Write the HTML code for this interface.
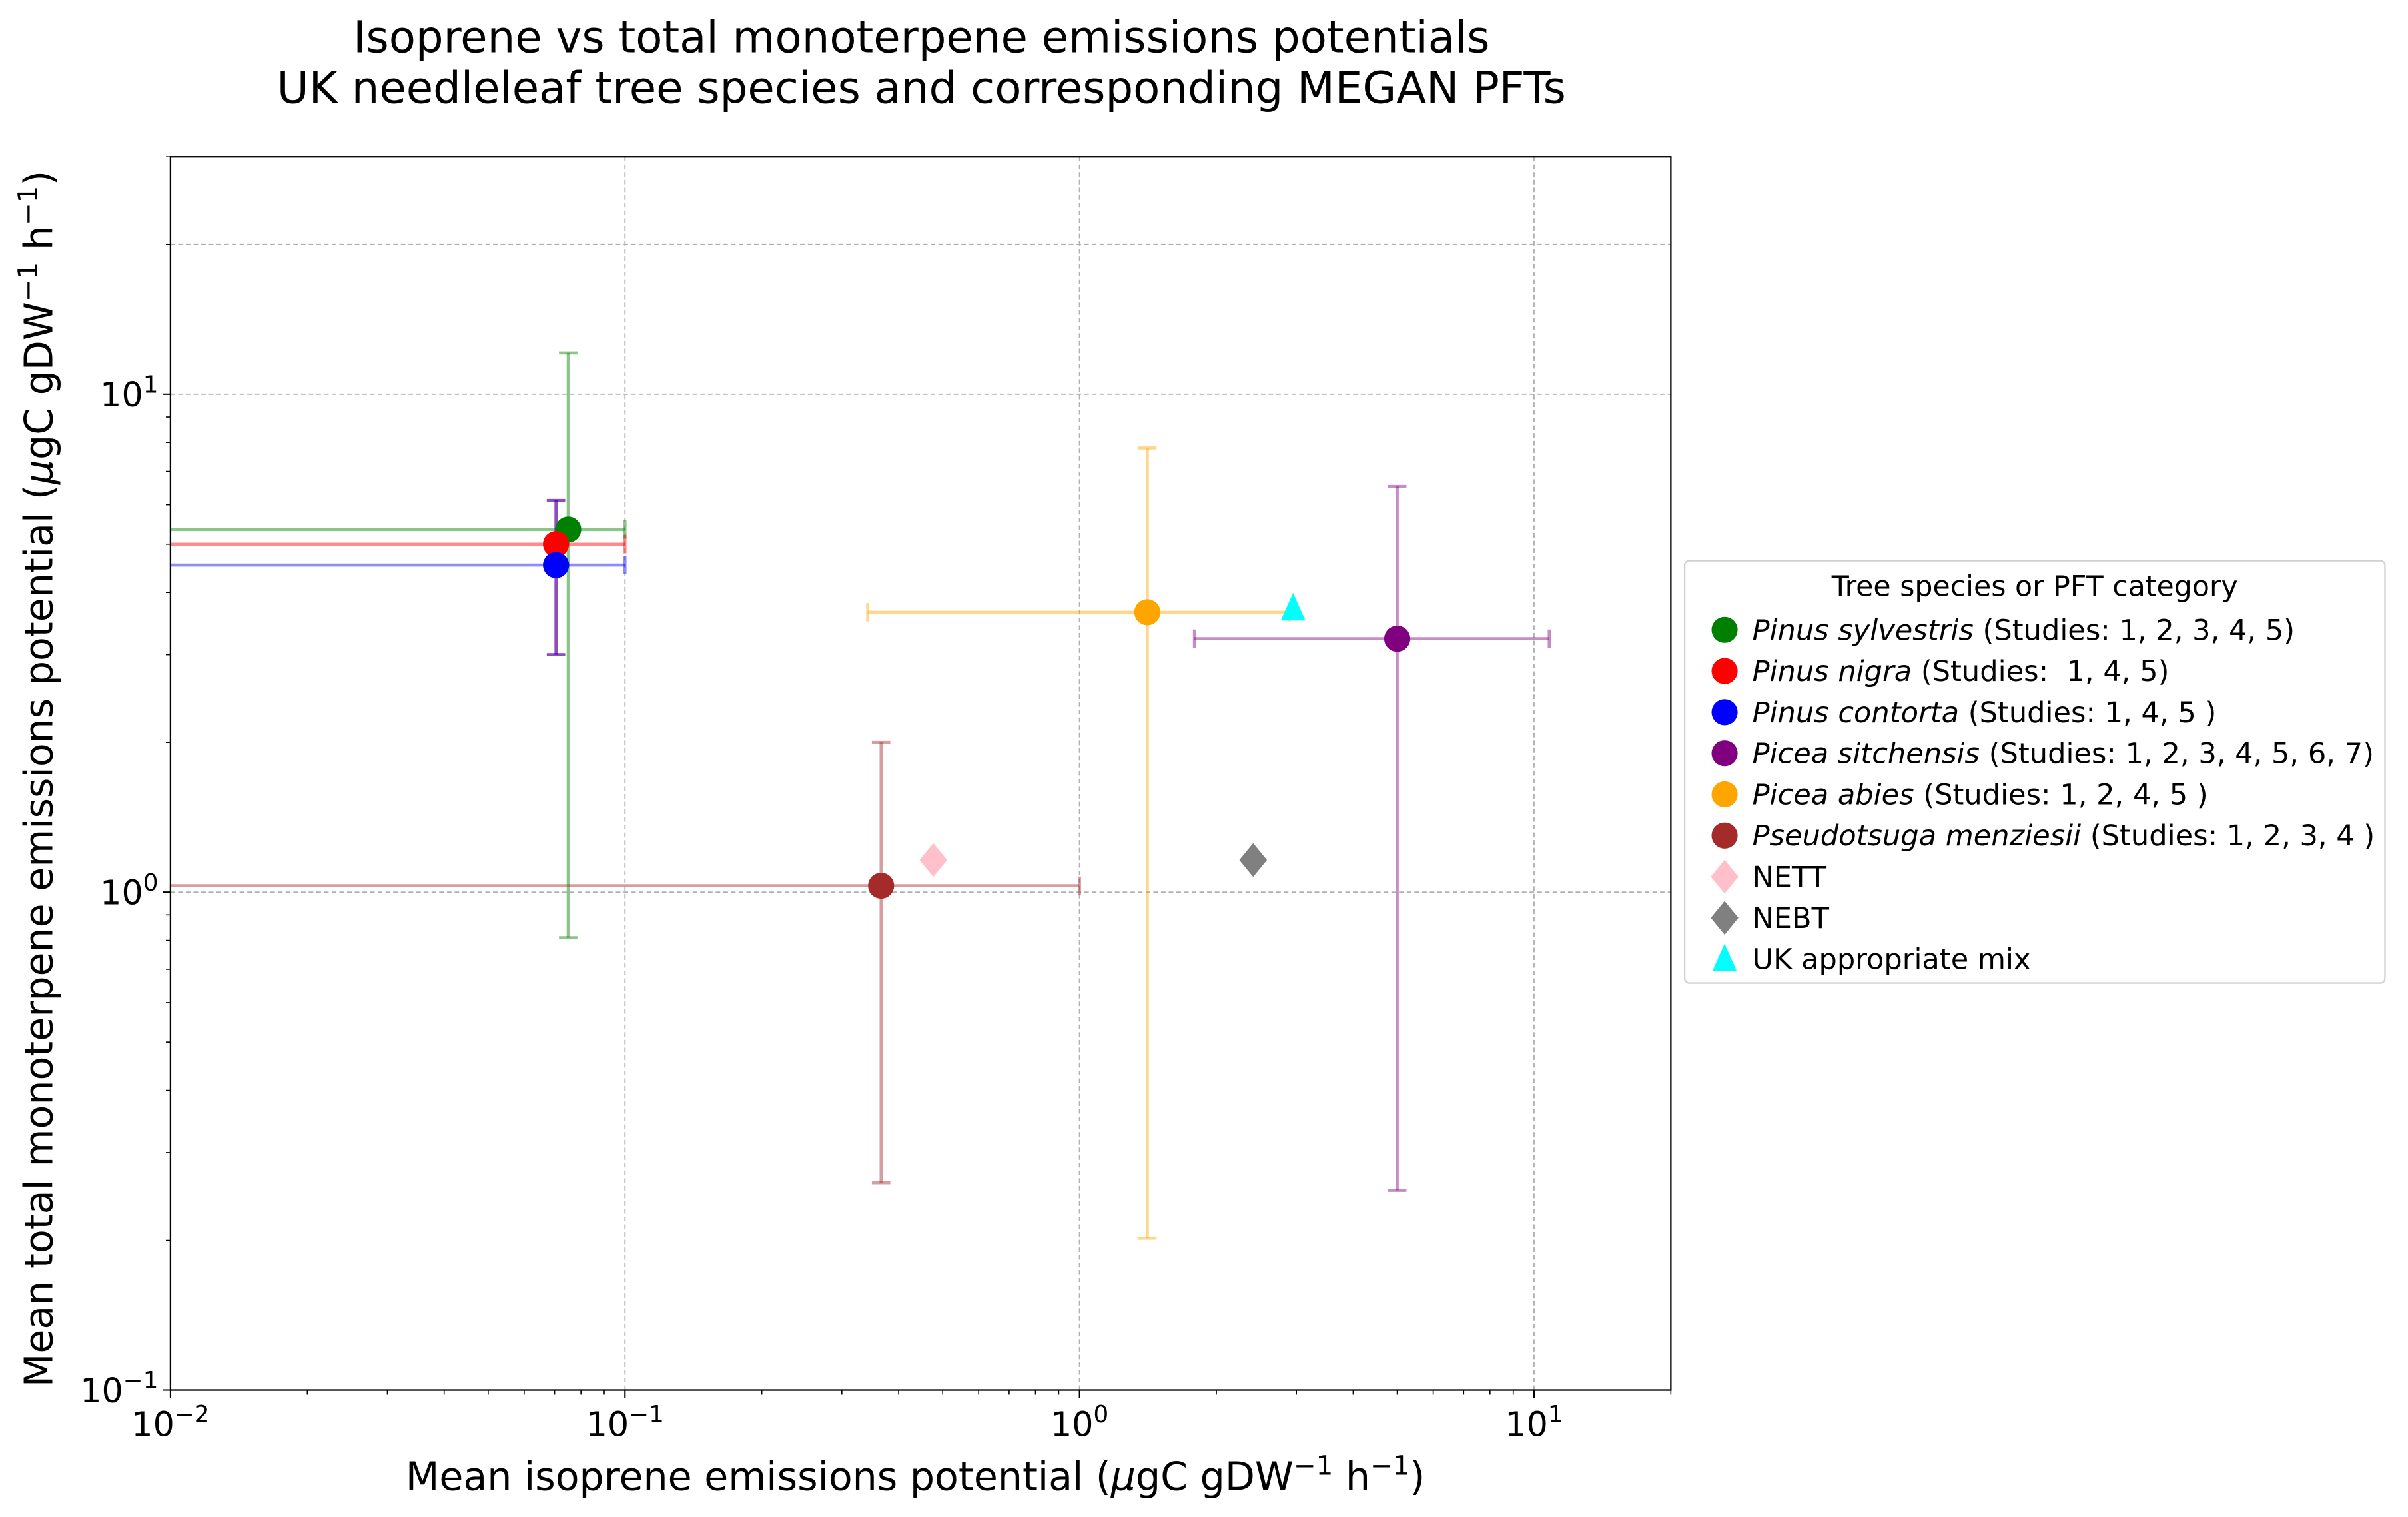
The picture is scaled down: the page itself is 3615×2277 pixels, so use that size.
<!DOCTYPE html>
<html><head><meta charset="utf-8"><style>
html,body{margin:0;padding:0;background:#fff}
svg{display:block;font-family:"DejaVu Sans","Liberation Sans",sans-serif}
</style></head><body>
<svg id="chart" width="3615" height="2277" viewBox="0 0 1568 987.6" xmlns="http://www.w3.org/2000/svg">
<rect width="1568" height="987.6" fill="#fff"/>
<g id="grid"></g>
<g id="ticks"></g>
<g id="marks"></g>
<rect x="111" y="102" width="977" height="803" fill="none" stroke="#000" stroke-width="1"/>
<text x="600" y="34" font-size="28.5" text-anchor="middle">Isoprene vs total monoterpene emissions potentials</text>
<text x="600" y="67" font-size="28.5" text-anchor="middle">UK needleleaf tree species and corresponding MEGAN PFTs</text>
<text x="596" y="970" font-size="25.4" text-anchor="middle">Mean isoprene emissions potential (<tspan font-style="italic">μ</tspan>gC gDW<tspan dy="-10" font-size="17.5">−1</tspan><tspan dy="10"> h</tspan><tspan dy="-10" font-size="17.5">−1</tspan><tspan dy="10">)</tspan></text>
<text transform="translate(34,507) rotate(-90)" font-size="25.4" text-anchor="middle">Mean total monoterpene emissions potential (<tspan font-style="italic">μ</tspan>gC gDW<tspan dy="-10" font-size="17.5">−1</tspan><tspan dy="10"> h</tspan><tspan dy="-10" font-size="17.5">−1</tspan><tspan dy="10">)</tspan></text>
<g id="legend">
<rect x="1097" y="365" width="456" height="275" rx="3" fill="#fff" stroke="#d0d0d0" stroke-width="1"/>
<text x="1325" y="388" font-size="18.5" text-anchor="middle">Tree species or PFT category</text>
</g>
</svg>
<script>
const names=["Pinus sylvestris","Pinus nigra","Pinus contorta","Picea sitchensis","Picea abies","Pseudotsuga menziesii"];
const studies=["(Studies: 1, 2, 3, 4, 5)","(Studies:\u00a0 1, 4, 5)","(Studies: 1, 4, 5 )","(Studies: 1, 2, 3, 4, 5, 6, 7)","(Studies: 1, 2, 4, 5 )","(Studies: 1, 2, 3, 4 )"];
const colors=["green","red","blue","purple","orange","brown"];
const isoMean=[0.075,0.0705,0.0705,5.0,1.41,0.366];
const monoMean=[5.35,5.0,4.54,3.23,3.65,1.03];
const isoLo=[0.001,0.001,0.001,1.79,0.342,0.001];
const isoHi=[0.1,0.1,0.1,10.8,2.9,1.0];
const monoLo=[0.81,3.0,3.0,0.252,0.202,0.261];
const monoHi=[12.1,6.12,6.12,6.53,7.8,2.0];
const pftNames=["NETT","NEBT","UK appropriate mix"];
const pftIso=[0.477,2.41,2.95];
const pftMono=[1.16,1.16,3.72];
const pftColors=["pink","gray","cyan"];
const pftShapes=["diamond","diamond","triangle"];
const xTickVals=[0.01,0.1,1,10];
const xTickLabels=["−2","−1","0","1"];
const yTickVals=[0.1,1,10];
const yTickLabels=["−1","0","1"];

const L=111,R=1088,T=102,B=905;
const xmin=Math.log10(0.01),xmax=Math.log10(20),ymin=Math.log10(0.1),ymax=Math.log10(30);
const X=v=>L+(Math.log10(v)-xmin)/(xmax-xmin)*(R-L);
const Y=v=>B-(Math.log10(v)-ymin)/(ymax-ymin)*(B-T);
const NS="http://www.w3.org/2000/svg";
function mk(tag,attrs,parent){const e=document.createElementNS(NS,tag);for(const k in attrs)e.setAttribute(k,attrs[k]);parent.appendChild(e);return e;}
const grid=document.getElementById('grid'),ticks=document.getElementById('ticks'),marks=document.getElementById('marks'),legend=document.getElementById('legend');
const clip=v=>Math.max(L,Math.min(R,v));

[0.1,1,10].forEach(v=>{const l=mk('line',{x1:X(v),x2:X(v),y1:T,y2:B,stroke:'#b0b0b0','stroke-dasharray':'3,2','stroke-width':0.8},grid);

});
[1,10,20].forEach(v=>{const l=mk('line',{x1:L,x2:R,y1:Y(v),y2:Y(v),stroke:'#b0b0b0','stroke-dasharray':'3,2','stroke-width':0.8},grid);

});
for(let d=-2;d<=1;d++)for(let m=1;m<10;m++){const v=m*Math.pow(10,d);if(v>20)continue;const x=X(v);
mk('line',{x1:x,x2:x,y1:B,y2:B+(m==1?5:3),stroke:'#000','stroke-width':m==1?0.9:0.7},ticks);}
for(let d=-1;d<=1;d++)for(let m=1;m<10;m++){const v=m*Math.pow(10,d);if(v>30)continue;const y=Y(v);
mk('line',{x1:L,x2:L-(m==1?5:3),y1:y,y2:y,stroke:'#000','stroke-width':m==1?0.9:0.7},ticks);}
xTickVals.forEach((v,i)=>{const t=mk('text',{x:X(v),y:B+30,'font-size':22,'text-anchor':'middle'},ticks);


t.innerHTML='10<tspan dy="-9" font-size="15.5">'+xTickLabels[i]+'</tspan>';});
yTickVals.forEach((v,i)=>{const t=mk('text',{x:L-8,y:Y(v)+8,'font-size':22,'text-anchor':'end'},ticks);


t.innerHTML='10<tspan dy="-9" font-size="15.5">'+yTickLabels[i]+'</tspan>';});

for(let i=0;i<names.length;i++){
  const g=mk('g',{stroke:colors[i],'stroke-opacity':0.45,'stroke-width':2},marks);
  
  
  const cx=X(isoMean[i]),cy=Y(monoMean[i]);
  const x1=clip(X(isoLo[i])),x2=clip(X(isoHi[i]));
  mk('line',{x1:x1,x2:x2,y1:cy,y2:cy},g);
  if(X(isoLo[i])>=L)mk('line',{x1:x1,x2:x1,y1:cy-6,y2:cy+6},g);
  mk('line',{x1:x2,x2:x2,y1:cy-6,y2:cy+6},g);
  const y1=Y(monoHi[i]),y2=Y(monoLo[i]);
  mk('line',{x1:cx,x2:cx,y1:y1,y2:y2},g);
  mk('line',{x1:cx-6,x2:cx+6,y1:y1,y2:y1},g);
  mk('line',{x1:cx-6,x2:cx+6,y1:y2,y2:y2},g);
}
for(let i=0;i<names.length;i++){
  const c=mk('circle',{cx:X(isoMean[i]),cy:Y(monoMean[i]),r:8.5,fill:colors[i]},marks);
  
  
}
function shape(kind,x,y,col,parent){
  if(kind==='diamond')return mk('polygon',{points:`${x},${y-11} ${x+9},${y} ${x},${y+11} ${x-9},${y}`,fill:col},parent);
  return mk('polygon',{points:`${x},${y-10} ${x+8},${y+8} ${x-8},${y+8}`,fill:col},parent);
}
for(let i=0;i<pftNames.length;i++){
  const s=shape(pftShapes[i],X(pftIso[i]),Y(pftMono[i]),pftColors[i],marks);
  
  
}
const ly0=410,ldy=26.8;
for(let i=0;i<names.length;i++){
  const y=ly0+i*ldy;
  const c=mk('circle',{cx:1123,cy:y,r:8.5,fill:colors[i]},legend);
  
  
  const t=mk('text',{x:1141,y:y+6.5,'font-size':18.7},legend);
  
  
  t.innerHTML='<tspan font-style="italic">'+names[i]+'</tspan> '+studies[i];
}
for(let i=0;i<pftNames.length;i++){
  const y=ly0+(names.length+i)*ldy;
  const s=shape(pftShapes[i],1123,y,pftColors[i],legend);
  
  
  const t=mk('text',{x:1141,y:y+6.5,'font-size':18.7},legend);
  
  
  t.textContent=pftNames[i];
}
</script>
</body></html>
